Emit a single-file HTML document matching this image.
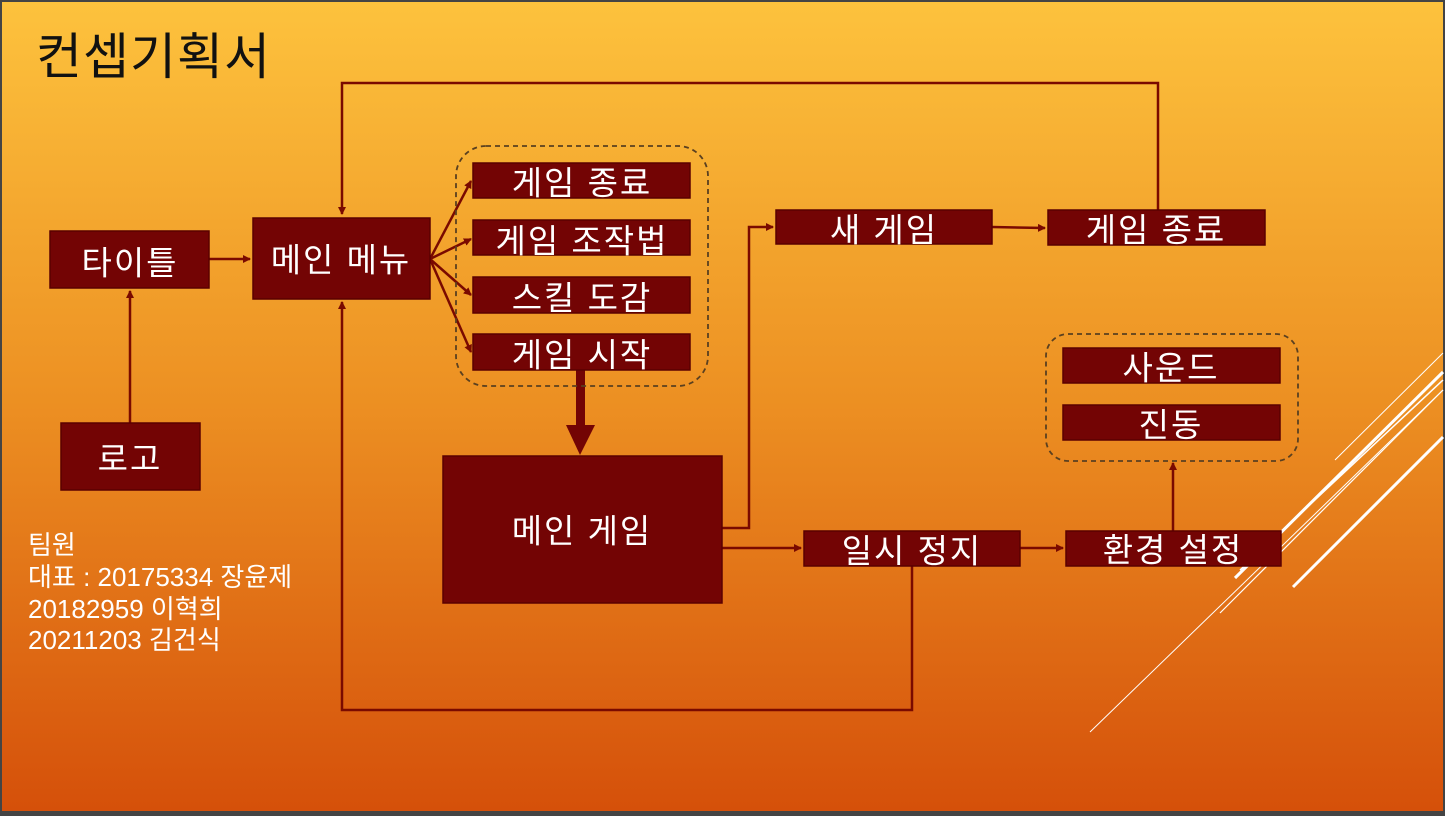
<!DOCTYPE html>
<html><head><meta charset="utf-8"><style>
html,body{margin:0;padding:0;background:#3a3a3a;}
svg{display:block;font-family:"Liberation Sans","Noto Sans CJK KR",sans-serif;}
.b{fill:#730404;stroke:#5a0000;stroke-width:1.5;}
.t{fill:#fff;font-size:33px;letter-spacing:2px;text-anchor:middle;dominant-baseline:central;}
.l{stroke:#7a0a00;stroke-width:2.5;fill:none;}
.d{stroke:#5a4020;stroke-width:1.8;fill:none;stroke-dasharray:5 4;}
.w{stroke:#fff;fill:none;}
</style></head><body>
<svg width="1445" height="816" viewBox="0 0 1445 816">
<defs>
<linearGradient id="g" x1="0" y1="0" x2="0" y2="1">
<stop offset="0" stop-color="#fdc23d"/><stop offset="0.5" stop-color="#ec8f22"/><stop offset="1" stop-color="#d5500a"/>
</linearGradient>
<marker id="a" markerWidth="8" markerHeight="8" refX="7" refY="4" orient="auto" markerUnits="userSpaceOnUse"><path d="M0,0 L8,4 L0,8z" fill="#7a0a00"/></marker>
</defs>
<rect x="0" y="0" width="1445" height="816" fill="#444"/>
<rect x="2" y="2" width="1441" height="809" fill="url(#g)"/>
<line class="w" stroke-width="1" x1="1335" y1="460" x2="1443" y2="353"/>
<line class="w" stroke-width="3" x1="1235" y1="578" x2="1443" y2="372"/>
<line class="w" stroke-width="1.5" x1="1240" y1="570" x2="1443" y2="380"/>
<line class="w" stroke-width="1" x1="1090" y1="732" x2="1443" y2="390"/>
<line class="w" stroke-width="1.2" x1="1220" y1="613" x2="1443" y2="390"/>
<line class="w" stroke-width="3" x1="1293" y1="587" x2="1443" y2="437"/>
<text x="36" y="74" font-size="50" letter-spacing="1" fill="#111">컨셉기획서</text>
<polyline class="l" points="1158,210 1158,83 342,83 342,214" marker-end="url(#a)"/>
<polyline class="l" points="912,566 912,710 342,710 342,302" marker-end="url(#a)"/>
<line class="l" x1="209" y1="259" x2="250" y2="259" marker-end="url(#a)"/>
<line class="l" x1="130" y1="423" x2="130" y2="291" marker-end="url(#a)"/>
<line class="l" x1="430" y1="259" x2="471" y2="181" marker-end="url(#a)"/>
<line class="l" x1="430" y1="259" x2="471" y2="239" marker-end="url(#a)"/>
<line class="l" x1="430" y1="259" x2="471" y2="295" marker-end="url(#a)"/>
<line class="l" x1="430" y1="259" x2="471" y2="352" marker-end="url(#a)"/>
<rect x="576" y="370" width="9" height="57" fill="#730404"/>
<path d="M566,425 L595,425 L580,455z" fill="#730404"/>
<polyline class="l" points="722,528 749,528 749,227 773,227" marker-end="url(#a)"/>
<line class="l" x1="992" y1="227" x2="1045" y2="228" marker-end="url(#a)"/>
<line class="l" x1="722" y1="548" x2="801" y2="548" marker-end="url(#a)"/>
<line class="l" x1="1020" y1="548" x2="1063" y2="548" marker-end="url(#a)"/>
<line class="l" x1="1173" y1="531" x2="1173" y2="463" marker-end="url(#a)"/>
<rect class="d" x="456" y="146" width="252" height="240" rx="30"/>
<rect class="d" x="1046" y="334" width="252" height="127" rx="22"/>
<rect class="b" x="50" y="231" width="159" height="57"/><text class="t" x="130" y="263">타이틀</text>
<rect class="b" x="253" y="218" width="177" height="81"/><text class="t" x="341" y="260">메인 메뉴</text>
<rect class="b" x="473" y="163" width="217" height="35"/><text class="t" x="582" y="183">게임 종료</text>
<rect class="b" x="473" y="220" width="217" height="35"/><text class="t" x="582" y="241">게임 조작법</text>
<rect class="b" x="473" y="277" width="217" height="36"/><text class="t" x="582" y="298">스킬 도감</text>
<rect class="b" x="473" y="334" width="217" height="36"/><text class="t" x="582" y="355">게임 시작</text>
<rect class="b" x="61" y="423" width="139" height="67"/><text class="t" x="130" y="459">로고</text>
<rect class="b" x="443" y="456" width="279" height="147"/><text class="t" x="582" y="531">메인 게임</text>
<rect class="b" x="776" y="210" width="216" height="34"/><text class="t" x="884" y="230">새 게임</text>
<rect class="b" x="1048" y="210" width="217" height="35"/><text class="t" x="1156" y="230">게임 종료</text>
<rect class="b" x="804" y="531" width="216" height="35"/><text class="t" x="912" y="551">일시 정지</text>
<rect class="b" x="1066" y="531" width="215" height="35"/><text class="t" x="1173" y="550">환경 설정</text>
<rect class="b" x="1063" y="348" width="217" height="35"/><text class="t" x="1171" y="368">사운드</text>
<rect class="b" x="1063" y="405" width="217" height="35"/><text class="t" x="1171" y="425">진동</text>
<g fill="#fff" font-size="26">
<text x="28" y="554">팀원</text>
<text x="28" y="586">대표 : 20175334 장윤제</text>
<text x="28" y="618">20182959 이혁희</text>
<text x="28" y="649">20211203 김건식</text>
</g>
</svg>
</body></html>
